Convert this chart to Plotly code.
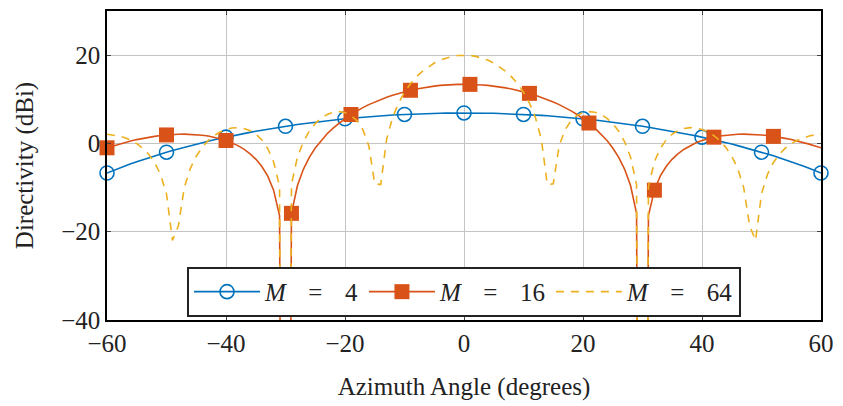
import plotly.graph_objects as go

# Azimuth angle samples (degrees)
angle = list(range(-60, 61))

# Directivity (dBi), 1-degree samples, -60 .. 60
# (values of -300 mark the nulls at +/-30 deg that fall far below the axis)
m4_half = [6.90, 6.90, 6.89, 6.87, 6.85, 6.82, 6.78, 6.74, 6.69, 6.64,
           6.57, 6.50, 6.43, 6.35, 6.26, 6.16, 6.06, 5.95, 5.83, 5.71,
           5.58, 5.44, 5.30, 5.15, 4.99, 4.83, 4.65, 4.47, 4.29, 4.09,
           3.89, 3.68, 3.46, 3.24, 3.00, 2.76, 2.51, 2.25, 1.98, 1.71,
           1.42, 1.13, 0.82, 0.51, 0.18, -0.15, -0.50, -0.85, -1.22, -1.60,
           -1.99, -2.40, -2.81, -3.24, -3.69, -4.15, -4.62, -5.12, -5.63, -6.15,
           -6.70]
m16_half = [13.40, 13.38, 13.33, 13.25, 13.14, 12.99, 12.81, 12.59, 12.33, 12.04,
            11.71, 11.34, 10.93, 10.47, 9.96, 9.40, 8.79, 8.11, 7.37, 6.55,
            5.64, 4.62, 3.48, 2.19, 0.71, -1.04, -3.16, -5.86, -9.59, -15.84,
            -300.0, -16.34, -10.59, -7.36, -5.16, -3.54, -2.29, -1.30, -0.50, 0.14,
            0.66, 1.08, 1.42, 1.67, 1.86, 1.99, 2.07, 2.10, 2.08, 2.02,
            1.92, 1.78, 1.60, 1.39, 1.15, 0.87, 0.56, 0.22, -0.16, -0.56,
            -0.99]
m64_half = [20.00, 19.93, 19.72, 19.38, 18.88, 18.22, 17.38, 16.34, 15.08, 13.52,
            11.60, 9.15, 5.87, 0.97, -9.33, -9.13, -0.51, 3.12, 5.15, 6.35,
            6.99, 7.20, 7.05, 6.56, 5.72, 4.49, 2.77, 0.38, -3.15, -9.28,
            -300.0, -9.78, -4.14, -1.10, 0.83, 2.10, 2.92, 3.39, 3.57, 3.49,
            3.17, 2.59, 1.76, 0.62, -0.89, -2.90, -5.69, -9.95, -18.64, -21.96,
            -11.43, -7.03, -4.32, -2.45, -1.07, -0.05, 0.72, 1.28, 1.68, 1.94,
            2.08]

# symmetric pattern: values for -60..-1 are the mirror of 60..1
m4 = m4_half[:0:-1] + m4_half
m16 = m16_half[:0:-1] + m16_half
m64 = m64_half[:0:-1] + m64_half

# marker positions
m4_mark_x = [-60, -50, -40, -30, -20, -10, 0, 10, 20, 30, 40, 50, 60]
m16_mark_x = [-60, -50, -40, -29, -19, -9, 1, 11, 21, 32, 42, 52]

sp = "\u2002\u2009\u2009"
names = [f"<i>M</i>{sp}={sp}4", f"<i>M</i>{sp}={sp}16", f"<i>M</i>{sp}={sp}64"]
c_blue, c_orange, c_yellow = "#0072BD", "#D95319", "#EDB120"

def pick(xs, ys, sel):
    return [ys[xs.index(v)] for v in sel]

fig = go.Figure()
fig.add_trace(go.Scatter(x=angle, y=m4, mode="lines", line=dict(color=c_blue, width=1.6),
                         showlegend=False))
fig.add_trace(go.Scatter(x=m4_mark_x, y=pick(angle, m4, m4_mark_x), mode="markers",
                         marker=dict(symbol="circle-open", size=14, color=c_blue,
                                     line=dict(color=c_blue, width=1.6)),
                         showlegend=False, cliponaxis=False))
fig.add_trace(go.Scatter(x=angle, y=m16, mode="lines", line=dict(color=c_orange, width=1.6),
                         showlegend=False))
fig.add_trace(go.Scatter(x=m16_mark_x, y=pick(angle, m16, m16_mark_x), mode="markers",
                         marker=dict(symbol="square", size=15, color=c_orange,
                                     line=dict(width=0)),
                         showlegend=False, cliponaxis=False))
fig.add_trace(go.Scatter(x=angle, y=m64, mode="lines",
                         line=dict(color=c_yellow, width=1.6, dash="8px,7px"),
                         showlegend=False))

# legend entries
fig.add_trace(go.Scatter(x=[None], y=[None], mode="lines+markers", name=names[0],
                         line=dict(color=c_blue, width=1.6),
                         marker=dict(symbol="circle-open", size=14, color=c_blue,
                                     line=dict(color=c_blue, width=1.6))))
fig.add_trace(go.Scatter(x=[None], y=[None], mode="lines+markers", name=names[1],
                         line=dict(color=c_orange, width=1.6),
                         marker=dict(symbol="square", size=15, color=c_orange)))
fig.add_trace(go.Scatter(x=[None], y=[None], mode="lines", name=names[2],
                         line=dict(color=c_yellow, width=1.6, dash="8px,7px")))

font = "Liberation Serif"
axis_common = dict(showline=True, linecolor="black", linewidth=1.5, mirror="ticks",
                   showgrid=True, gridcolor="#c4c4c4", gridwidth=1.2, zeroline=False,
                   ticks="inside", ticklen=4, tickcolor="#444", tickwidth=1,
                   tickfont=dict(family=font, size=25, color="#222"))

fig.update_layout(
    width=843, height=406,
    margin=dict(l=107, r=16, t=9, b=86),
    paper_bgcolor="white", plot_bgcolor="white",
    font=dict(family=font, size=25, color="#222"),
    xaxis=dict(range=[-60, 60], tickvals=[-60, -40, -20, 0, 20, 40, 60],
               title=dict(text="Azimuth Angle (degrees)", standoff=22,
                          font=dict(family=font, size=25, color="#222")),
               **axis_common),
    yaxis=dict(range=[-40, 30], tickvals=[-40, -20, 0, 20],
               title=dict(text="Directivity (dBi)", standoff=20,
                          font=dict(family=font, size=25, color="#222")),
               **axis_common),
    legend=dict(orientation="h", x=0.5, xanchor="center", y=0.01, yanchor="bottom",
                bgcolor="white", bordercolor="#222", borderwidth=2,
                font=dict(family=font, size=25, color="#222"),
                itemwidth=66, tracegroupgap=0),
)

fig.write_html("out.html", config={"displayModeBar": False},
               post_script="document.body.style.margin='0px';")
